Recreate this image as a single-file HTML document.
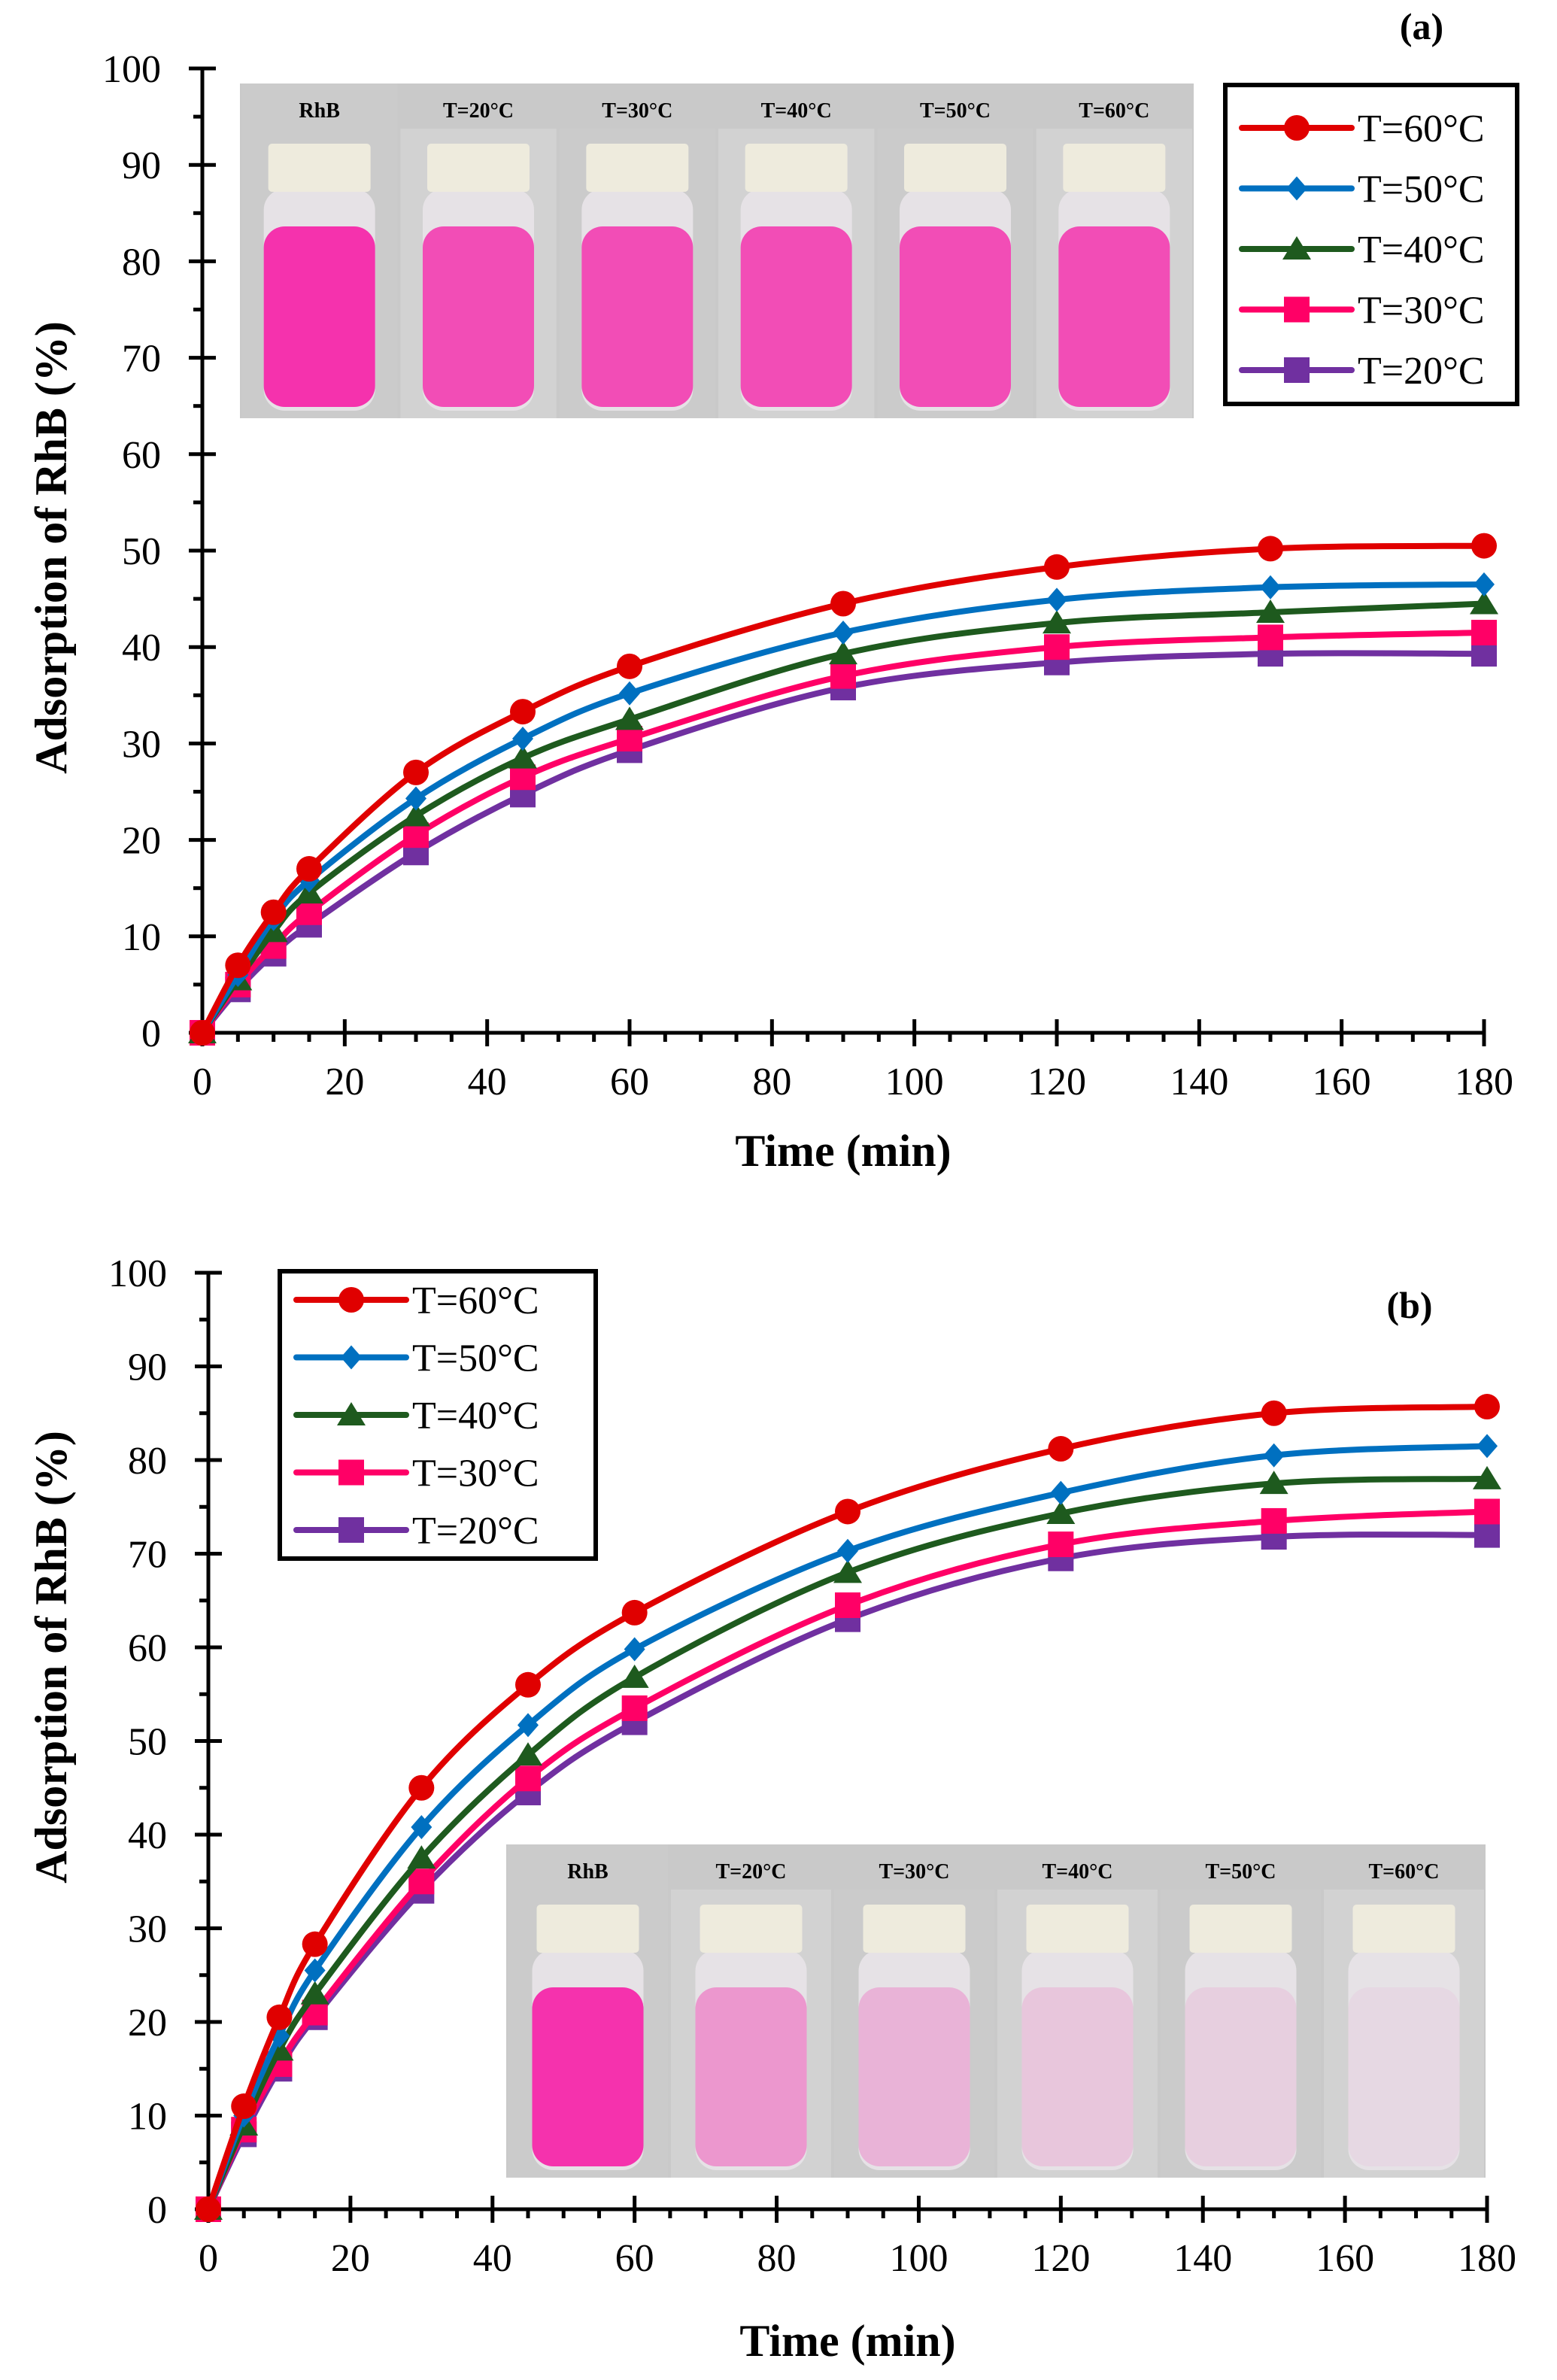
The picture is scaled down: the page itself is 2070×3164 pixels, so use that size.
<!DOCTYPE html>
<html><head><meta charset="utf-8"><style>
html,body{margin:0;padding:0;background:#fff}
svg{display:block;font-family:"Liberation Serif",serif}
svg text{font-family:"Liberation Serif",serif}
</style></head><body>
<svg id="s" width="2070" height="3164" xmlns="http://www.w3.org/2000/svg"></svg>
<script>
const S=document.getElementById('s');let h='';
const cols=['#e00000','#0070c0','#1e5a1e','#ff0066','#7030a0'];
const names=['T=60°C','T=50°C','T=40°C','T=30°C','T=20°C'];
const T=[0,5,10,15,30,45,60,90,120,150,180];
function marker(i,x,y){const c=cols[i];
 if(i==0)return `<circle cx="${x}" cy="${y}" r="17" fill="${c}"/>`;
 if(i==1)return `<polygon points="${x},${y-16} ${x+14},${y} ${x},${y+16} ${x-14},${y}" fill="${c}"/>`;
 if(i==2)return `<polygon points="${x},${y-17} ${x+19},${y+14} ${x-19},${y+14}" fill="${c}"/>`;
 return `<rect x="${x-17}" y="${y-17}" width="34" height="34" fill="${c}"/>`;}
function path(pts){let d=`M${pts[0][0]},${pts[0][1]}`;
 for(let i=0;i<pts.length-1;i++){const p0=pts[Math.max(0,i-1)],p1=pts[i],p2=pts[i+1],p3=pts[Math.min(pts.length-1,i+2)];
 const c1=[p1[0]+(p2[0]-p0[0])/6,p1[1]+(p2[1]-p0[1])/6],c2=[p2[0]-(p3[0]-p1[0])/6,p2[1]-(p3[1]-p1[1])/6];
 d+=` C${c1[0]},${c1[1]} ${c2[0]},${c2[1]} ${p2[0]},${p2[1]}`;}return d;}
function photo(x0,y0,w,hh,alphas,labY){
 h+=`<rect x="${x0}" y="${y0}" width="${w}" height="${hh}" fill="#c9c9c9"/>`;
 const pw=w/6;const labs=['RhB','T=20°C','T=30°C','T=40°C','T=50°C','T=60°C'];
 for(let k=0;k<6;k++){const px=x0+k*pw;
  h+=`<rect x="${px+2}" y="${y0+(k?60:0)}" width="${pw-4}" height="${hh-(k?60:0)}" fill="${k%2?'#d2d2d2':'#cbcbcb'}"/>`;
  h+=`<text x="${px+pw/2}" y="${y0+labY}" font-size="28" font-weight="bold" text-anchor="middle">${labs[k]}</text>`;
  const vx=px+pw/2-74,vw=148;
  h+=`<rect x="${vx}" y="${y0+140}" width="${vw}" height="${hh-150}" rx="28" fill="#e6e2e6"/>`;
  h+=`<rect x="${vx}" y="${y0+190}" width="${vw}" height="${hh-205}" rx="28" fill="rgba(245,40,170,${alphas[k]})"/>`;
  h+=`<rect x="${vx+6}" y="${y0+80}" width="${vw-12}" height="64" rx="5" fill="#eeebdd"/>`;
 }}
function panel(o){
 const X=t=>o.x0+(o.x1-o.x0)*t/180, Y=v=>o.y0-(o.y0-o.y1)*v/100;
 photo(...o.photo);
 h+=`<g stroke="#000" stroke-width="5">`;
 h+=`<line x1="${X(0)}" y1="${Y(100)}" x2="${X(0)}" y2="${Y(0)}"/><line x1="${X(0)}" y1="${Y(0)}" x2="${X(180)}" y2="${Y(0)}"/>`;
 for(let v=0;v<=100;v+=5){const y=Y(v);h+=v%10==0?`<line x1="${X(0)-18}" y1="${y}" x2="${X(0)+18}" y2="${y}"/>`:`<line x1="${X(0)-12}" y1="${y}" x2="${X(0)}" y2="${y}"/>`;}
 for(let t=0;t<=180;t+=5){const x=X(t);h+=t%20==0?`<line x1="${x}" y1="${Y(0)-18}" x2="${x}" y2="${Y(0)+18}"/>`:`<line x1="${x}" y1="${Y(0)}" x2="${x}" y2="${Y(0)+12}"/>`;}
 h+=`</g>`;
 for(let v=0;v<=100;v+=10)h+=`<text x="${X(0)-55}" y="${Y(v)+18}" font-size="52" text-anchor="end">${v}</text>`;
 for(let t=0;t<=180;t+=20)h+=`<text x="${X(t)}" y="${Y(0)+82}" font-size="52" text-anchor="middle">${t}</text>`;
 h+=`<text x="${(o.x0+o.x1)/2}" y="${o.xt}" font-size="60" font-weight="bold" text-anchor="middle">Time (min)</text>`;
 h+=`<text transform="translate(88,${o.yt}) rotate(-90)" font-size="60" font-weight="bold" text-anchor="middle">Adsorption of RhB (%)</text>`;
 for(let i=4;i>=0;i--){const pts=T.map((t,j)=>[X(t),Y(o.d[i][j])]);
  h+=`<path d="${path(pts)}" fill="none" stroke="${cols[i]}" stroke-width="8"/>`;
  pts.forEach(p=>h+=marker(i,p[0],p[1]));}
 const L=o.leg;h+=`<rect x="${L[0]}" y="${L[1]}" width="${L[2]}" height="${L[3]}" fill="#fff" stroke="#000" stroke-width="6"/>`;
 for(let i=0;i<5;i++){const y=L[1]+L[4]+i*L[5];
  h+=`<line x1="${L[0]+22}" y1="${y}" x2="${L[0]+168}" y2="${y}" stroke="${cols[i]}" stroke-width="8" stroke-linecap="round"/>`+marker(i,L[0]+95,y);
  h+=`<text x="${L[0]+176}" y="${y+18}" font-size="52">${names[i]}</text>`;}
 h+=`<text x="${o.lab[0]}" y="${o.lab[1]}" font-size="50" font-weight="bold" text-anchor="middle">${o.lab[2]}</text>`;
}
panel({x0:269,x1:1973,y0:1373,y1:91,xt:1550,yt:728,
 photo:[319,111,1268,445,[0.95,0.8,0.8,0.8,0.8,0.8],45],
 leg:[1629,113,388,424,57,80.5],lab:[1890,52,'(a)'],
 d:[[0,7,12.5,17,27,33.3,38,44.5,48.3,50.2,50.5],[0,6,11.8,15.8,24.3,30.5,35.2,41.5,44.9,46.2,46.5],[0,5.5,10.5,14.5,22.5,28.5,32.5,39.3,42.5,43.6,44.5],[0,5,9,12.5,20.5,26.5,30.5,37,40,41,41.5],[0,4.5,8.2,11.2,18.7,24.7,29.3,35.8,38.4,39.3,39.3]]});
panel({x0:277,x1:1977,y0:2937,y1:1692,xt:3132,yt:2203,
 photo:[673,2452,1302,443,[0.95,0.4,0.25,0.15,0.1,0.05],45],
 leg:[372,1690,420,382,38,76.5],lab:[1874,1752,'(b)'],
 d:[[0,11,20.5,28.3,45,56,63.7,74.5,81.2,85,85.7],[0,10,18.5,25.5,40.8,51.7,59.8,70.3,76.5,80.5,81.5],[0,9,17,23,37.5,48.5,56.8,68,74.3,77.5,78],[0,8.5,15.5,21,35,46,53.5,64.5,71,73.5,74.5],[0,8,15,20.5,34,44.5,52,63,69.5,71.8,72]]});
S.innerHTML=h;
</script>
</body></html>
